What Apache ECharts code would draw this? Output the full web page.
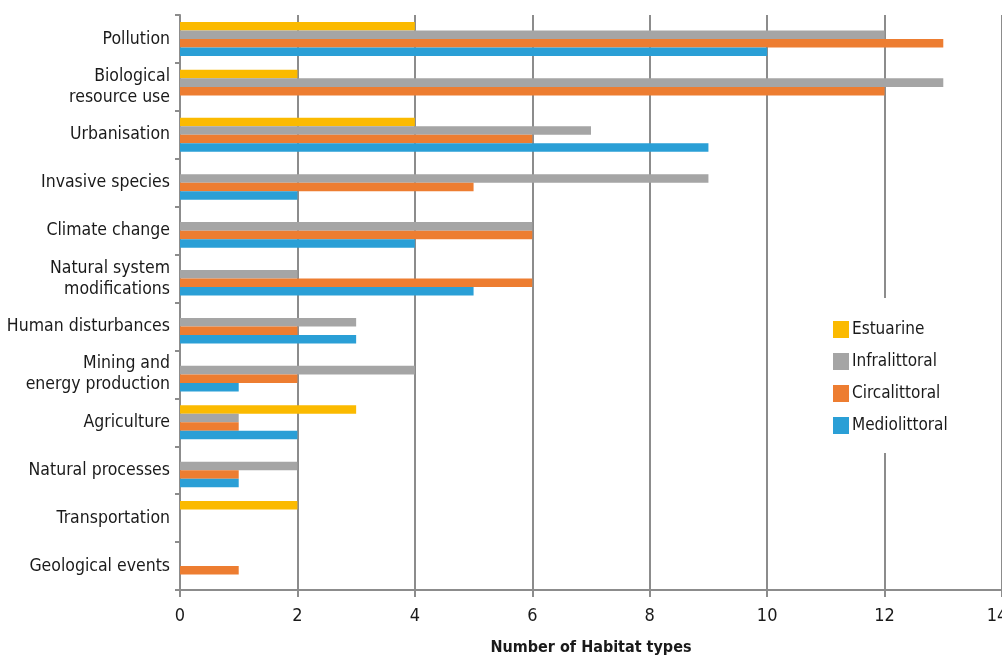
<!DOCTYPE html>
<html><head><meta charset="utf-8">
<script src="https://cdn.jsdelivr.net/npm/echarts@6/dist/echarts.min.js"></script>
<style>html,body{margin:0;padding:0;background:#fff}#c{width:1002px;height:657px}</style>
</head><body><div id="c"></div>
<script>
const categories = ["Pollution","Biological\nresource use","Urbanisation","Invasive species","Climate change","Natural system\nmodifications","Human disturbances","Mining and\nenergy production","Agriculture","Natural processes","Transportation","Geological events"];
const estuarine     = [4, 2, 4, 0, 0, 0, 0, 0, 3, 0, 2, 0];
const infralittoral = [12, 13, 7, 9, 6, 2, 3, 4, 1, 2, 0, 0];
const circalittoral = [13, 12, 6, 5, 6, 6, 2, 2, 1, 1, 0, 1];
const mediolittoral = [10, 0, 9, 2, 4, 5, 3, 1, 2, 1, 0, 0];
const xTicks = [0, 2, 4, 6, 8, 10, 12, 14];

const FONT = "'DejaVu Sans Condensed', 'DejaVu Sans', sans-serif";
const chart = echarts.init(document.getElementById('c'), null, {renderer: 'canvas'});
const mk = (name, data, color) => ({
  name, type: 'bar', data, barGap: '0%', barCategoryGap: '29%',
  itemStyle: {color}, emphasis: {disabled: true}
});
const xMax = xTicks[xTicks.length-1];
chart.setOption({
  animation: false,
  textStyle: {fontFamily: FONT, color: '#1a1a1a'},
  grid: {left: 180, right: 0, top: 15, bottom: 67, containLabel: false, outerBoundsMode: 'none'},
  legend: {
    orient: 'vertical', left: 820, top: 298,
    padding: [23, 14, 19, 13], backgroundColor: '#fff',
    itemWidth: 16, itemHeight: 17, itemGap: 15, icon: 'rect',
    selectedMode: false,
    textStyle: {fontFamily: FONT, fontSize: 17, color: '#1a1a1a', padding: [0,0,0,-2]},
    data: ['Estuarine','Infralittoral','Circalittoral','Mediolittoral'],
    z: 10
  },
  xAxis: {
    type: 'value', min: xTicks[0], max: xMax, interval: 2,
    name: 'Number of Habitat types', nameLocation: 'middle', nameGap: 50,
    nameTextStyle: {fontFamily: FONT, fontWeight: 'bold', fontSize: 16, color: '#1a1a1a'},
    axisLine: {show: true, lineStyle: {color: '#8c8c8c', width: 2}},
    axisTick: {show: true, length: 7, lineStyle: {color: '#8c8c8c', width: 2}},
    axisLabel: {
      fontSize: 18, color: '#1a1a1a', margin: 17, showMaxLabel: true,
      formatter: v => v === xMax ? '{m|' + v + '}' : String(v),
      rich: {m: {fontSize: 18, fontFamily: FONT, color: '#1a1a1a', padding: [0, 10, 0, 0]}}
    },
    splitLine: {show: true, lineStyle: {color: '#8c8c8c', width: 2}}
  },
  yAxis: {
    type: 'category', data: categories, inverse: true,
    axisLine: {show: true, lineStyle: {color: '#8c8c8c', width: 2}},
    axisTick: {show: true, length: 5, lineStyle: {color: '#8c8c8c', width: 2}},
    axisLabel: {fontSize: 17.5, color: '#1a1a1a', margin: 10, lineHeight: 21, align: 'right'}
  },
  series: [
    mk('Estuarine', estuarine, '#FBBA00'),
    mk('Infralittoral', infralittoral, '#A5A5A5'),
    mk('Circalittoral', circalittoral, '#ED7D31'),
    mk('Mediolittoral', mediolittoral, '#2A9FD6')
  ]
});
</script></body></html>
